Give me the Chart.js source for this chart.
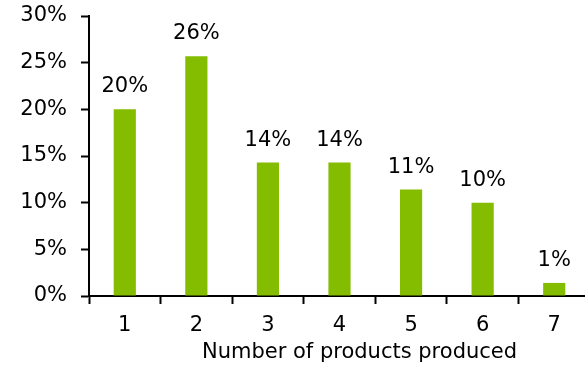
<!DOCTYPE html>
<html>
<head>
<meta charset="utf-8">
<script src="https://cdn.jsdelivr.net/npm/chart.js@4/dist/chart.umd.min.js"></script>
<style>
  html, body { margin: 0; padding: 0; background: #fff; overflow: hidden; }
  #wrap { width: 595px; height: 367px; }
</style>
</head>
<body>
<div id="wrap"><canvas id="productsChart" width="595" height="367"></canvas></div>
<script>
// share of respondents by number of products produced
const categories = ['1', '2', '3', '4', '5', '6', '7'];
const shares = [20.0, 25.7, 14.3, 14.3, 11.4, 10.0, 1.4];
const yTicks = [0, 5, 10, 15, 20, 25, 30];
const xTitle = 'Number of products produced';

const barGreen = '#84bc00';
const fontFamily = '"DejaVu Sans", Verdana, sans-serif';
const fontSize = 21;

// value labels above bars
const barLabels = {
    id: 'barLabels',
    afterDatasetsDraw(chart) {
        const ctx = chart.ctx;
        const meta = chart.getDatasetMeta(0);
        ctx.save();
        ctx.font = fontSize + 'px ' + fontFamily;
        ctx.fillStyle = '#000';
        ctx.textAlign = 'center';
        ctx.textBaseline = 'alphabetic';
        meta.data.forEach((bar, i) => {
            ctx.fillText(Math.round(shares[i]) + '%', bar.x, bar.y - 17);
        });
        ctx.restore();
    }
};

// axis title sits a bit right of centre in the original
const axisTitle = {
    id: 'axisTitle',
    afterDraw(chart) {
        const ctx = chart.ctx;
        const area = chart.chartArea;
        ctx.save();
        ctx.font = fontSize + 'px ' + fontFamily;
        ctx.fillStyle = '#000';
        ctx.textAlign = 'center';
        ctx.textBaseline = 'alphabetic';
        ctx.fillText(xTitle, (area.left + area.right) / 2 + 20, area.bottom + 62);
        ctx.restore();
    }
};

new Chart(document.getElementById('productsChart'), {
    type: 'bar',
    data: {
        labels: categories,
        datasets: [{
            data: shares,
            backgroundColor: barGreen,
            borderWidth: 0,
            categoryPercentage: 1,
            barPercentage: 0.31
        }]
    },
    options: {
        responsive: false,
        animation: false,
        layout: { padding: { top: 16, right: 5, bottom: 0, left: 0 } },
        plugins: {
            legend: { display: false },
            tooltip: { enabled: false }
        },
        scales: {
            x: {
                grid: {
                    offset: true,
                    drawOnChartArea: false,
                    drawTicks: true,
                    tickLength: 8,
                    tickWidth: 2,
                    color: '#000'
                },
                border: { color: '#000', width: 2 },
                ticks: {
                    color: '#000',
                    padding: 9,
                    maxRotation: 0,
                    font: { family: fontFamily, size: fontSize }
                },
                afterFit(scale) {
                    scale.height = 71;
                    scale.paddingLeft = 0;
                    scale.paddingRight = 0;
                }
            },
            y: {
                min: 0,
                max: 30,
                afterBuildTicks(scale) {
                    scale.ticks = yTicks.map(v => ({ value: v }));
                },
                grid: {
                    drawOnChartArea: false,
                    drawTicks: true,
                    tickLength: 8,
                    tickWidth: 2,
                    color: '#000'
                },
                border: { color: '#000', width: 2 },
                ticks: {
                    color: '#000',
                    padding: 14,
                    font: { family: fontFamily, size: fontSize },
                    callback: v => v + '%'
                },
                afterFit(scale) {
                    scale.width = 89;
                    scale.paddingTop = 0;
                    scale.paddingBottom = 0;
                }
            }
        }
    },
    plugins: [barLabels, axisTitle]
});
</script>
</body>
</html>
